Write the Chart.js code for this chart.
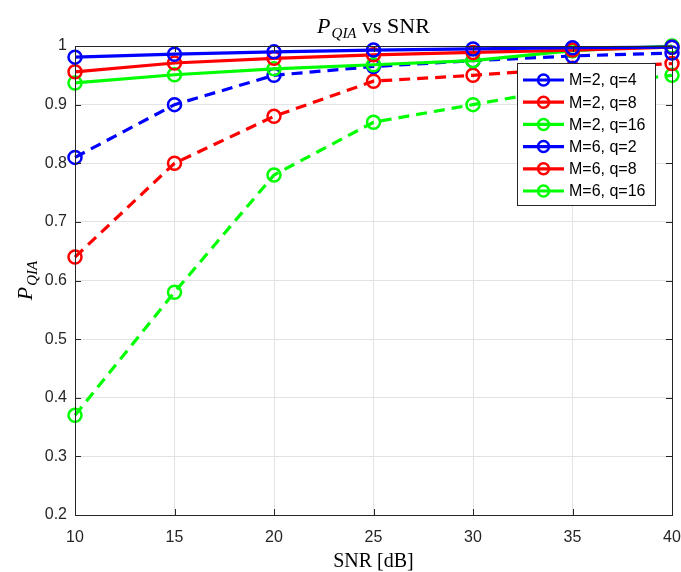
<!DOCTYPE html>
<html>
<head>
<meta charset="utf-8">
<script src="https://cdn.jsdelivr.net/npm/chart.js@4"></script>
<style>
  html, body { margin: 0; padding: 0; background: #fff; }
  #wrap { width: 681px; height: 572px; position: relative; }
</style>
</head>
<body>
<div id="wrap"><canvas id="lineChart"></canvas></div>
<script>
// SNR values on the x axis
const snr = [10, 15, 20, 25, 30, 35, 40];

// P_QIA for each configuration
const m2q4  = [0.981, 0.986, 0.990, 0.993, 0.995, 0.997, 0.998];
const m2q8  = [0.956, 0.971, 0.979, 0.985, 0.989, 0.993, 0.998];
const m2q16 = [0.937, 0.951, 0.961, 0.968, 0.975, 0.992, 1.000];
const m6q2  = [0.810, 0.900, 0.950, 0.965, 0.975, 0.983, 0.988];
const m6q8  = [0.640, 0.800, 0.880, 0.940, 0.950, 0.962, 0.970];
const m6q16 = [0.370, 0.580, 0.780, 0.870, 0.900, 0.930, 0.950];

const labels = ['M=2, q=4', 'M=2, q=8', 'M=2, q=16', 'M=6, q=2', 'M=6, q=8', 'M=6, q=16'];
const yTicks = [0.2, 0.3, 0.4, 0.5, 0.6, 0.7, 0.8, 0.9, 1];

const BLUE = '#0000ff', RED = '#ff0000', GREEN = '#00ff00';

const makeSet = (label, values, color, dashed) => ({
  label: label,
  data: snr.map((x, i) => ({ x: x, y: values[i] })),
  borderColor: color,
  backgroundColor: 'rgba(0,0,0,0)',
  borderWidth: 3.2,
  borderDash: dashed ? [11, 7] : [],
  pointRadius: 6.5,
  pointBorderWidth: 2.5,
  pointHoverRadius: 6.5,
  pointBackgroundColor: 'rgba(0,0,0,0)',
  pointBorderColor: color,
  clip: false,
  tension: 0
});

// title, axis labels with subscripts, inward ticks, box and legend
const decor = {
  id: 'decor',
  afterDraw(chart) {
    const ctx = chart.ctx;
    const a = chart.chartArea;
    const xs = chart.scales.x, ys = chart.scales.y;
    ctx.save();

    // box + inward ticks
    ctx.strokeStyle = '#262626';
    ctx.lineWidth = 1;
    ctx.strokeRect(a.left + 0.5, a.top + 0.5, a.right - a.left, a.bottom - a.top);
    ctx.beginPath();
    snr.forEach(v => {
      const px = Math.round(xs.getPixelForValue(v)) + 0.5;
      ctx.moveTo(px, a.bottom); ctx.lineTo(px, a.bottom - 6);
      ctx.moveTo(px, a.top); ctx.lineTo(px, a.top + 6);
    });
    yTicks.forEach(v => {
      const py = Math.round(ys.getPixelForValue(v)) + 0.5;
      ctx.moveTo(a.left, py); ctx.lineTo(a.left + 6, py);
      ctx.moveTo(a.right, py); ctx.lineTo(a.right - 6, py);
    });
    ctx.stroke();

    // title: P_QIA vs SNR
    ctx.fillStyle = '#000';
    ctx.textBaseline = 'alphabetic';
    const big = 'italic 22px "Liberation Serif", serif';
    const sub = 'italic 15px "Liberation Serif", serif';
    const rest = '22px "Liberation Serif", serif';
    const widths = (tail) => {
      ctx.font = big; const w1 = ctx.measureText('P').width;
      ctx.font = sub; const w2 = ctx.measureText('QIA').width;
      ctx.font = rest; const w3 = tail ? ctx.measureText(tail).width : 0;
      return [w1, w2, w3];
    };
    let [w1, w2, w3] = widths(' vs SNR');
    let tx = (a.left + a.right) / 2 - (w1 + w2 + 1 + w3) / 2;
    const ty = 33;
    ctx.textAlign = 'left';
    ctx.font = big; ctx.fillText('P', tx, ty);
    ctx.font = sub; ctx.fillText('QIA', tx + w1 + 1, ty + 5);
    ctx.font = rest; ctx.fillText(' vs SNR', tx + w1 + 1 + w2, ty);

    // x label
    ctx.font = '20px "Liberation Serif", serif';
    ctx.textAlign = 'center';
    ctx.fillText('SNR [dB]', (a.left + a.right) / 2, 567);

    // y label, rotated
    ctx.save();
    ctx.translate(32, (a.top + a.bottom) / 2);
    ctx.rotate(-Math.PI / 2);
    [w1, w2] = widths('');
    ctx.textAlign = 'left';
    const lx = -(w1 + w2 + 1) / 2;
    ctx.font = big; ctx.fillText('P', lx, 0);
    ctx.font = sub; ctx.fillText('QIA', lx + w1 + 1, 5);
    ctx.restore();

    // legend box
    const lx0 = 517.5, ly0 = 63.5, lw = 138, lh = 142;
    ctx.fillStyle = '#fff';
    ctx.fillRect(lx0, ly0, lw, lh);
    ctx.strokeStyle = '#262626';
    ctx.lineWidth = 1;
    ctx.strokeRect(lx0, ly0, lw, lh);
    ctx.font = '16px "Liberation Sans", Arial, sans-serif';
    ctx.textAlign = 'left';
    ctx.textBaseline = 'middle';
    chart.data.datasets.forEach((ds, i) => {
      const cy = 80 + i * 22.2;
      ctx.strokeStyle = ds.borderColor;
      ctx.lineWidth = 3.2;
      ctx.setLineDash([]);
      ctx.beginPath();
      ctx.moveTo(523, cy); ctx.lineTo(564, cy);
      ctx.stroke();
      ctx.lineWidth = 2.5;
      ctx.beginPath();
      ctx.arc(543.5, cy, 5.5, 0, Math.PI * 2);
      ctx.stroke();
      ctx.fillStyle = '#000';
      ctx.fillText(ds.label, 569, cy + 1);
    });
    ctx.restore();
  }
};

const config = {
  type: 'line',
  data: {
    datasets: [
      makeSet(labels[0], m2q4, BLUE, false),
      makeSet(labels[1], m2q8, RED, false),
      makeSet(labels[2], m2q16, GREEN, false),
      makeSet(labels[3], m6q2, BLUE, true),
      makeSet(labels[4], m6q8, RED, true),
      makeSet(labels[5], m6q16, GREEN, true)
    ]
  },
  options: {
    responsive: false,
    animation: false,
    layout: { padding: { top: 46, right: 9, left: 0, bottom: 0 } },
    plugins: {
      legend: { display: false },
      title: { display: false },
      tooltip: { enabled: false }
    },
    scales: {
      x: {
        type: 'linear',
        min: 10,
        max: 40,
        afterBuildTicks: s => { s.ticks = snr.map(v => ({ value: v })); },
        afterFit: s => { s.height = 57; s.paddingLeft = 0; s.paddingRight = 0; },
        ticks: {
          color: '#262626',
          font: { family: '"Liberation Sans", Arial, sans-serif', size: 16 },
          padding: 13,
          maxRotation: 0
        },
        grid: { color: '#e3e3e3', drawTicks: false },
        border: { display: false }
      },
      y: {
        min: 0.2,
        max: 1,
        afterBuildTicks: s => { s.ticks = yTicks.map(v => ({ value: v })); },
        afterFit: s => { s.width = 75; s.paddingTop = 0; s.paddingBottom = 0; },
        ticks: {
          color: '#262626',
          font: { family: '"Liberation Sans", Arial, sans-serif', size: 16 },
          padding: 8,
          callback: v => (v === 1 ? '1' : v.toFixed(1))
        },
        grid: { color: '#e3e3e3', drawTicks: false },
        border: { display: false }
      }
    }
  },
  plugins: [decor]
};

const canvas = document.getElementById('lineChart');
canvas.width = 681;
canvas.height = 572;
new Chart(canvas.getContext('2d'), config);
</script>
</body>
</html>
